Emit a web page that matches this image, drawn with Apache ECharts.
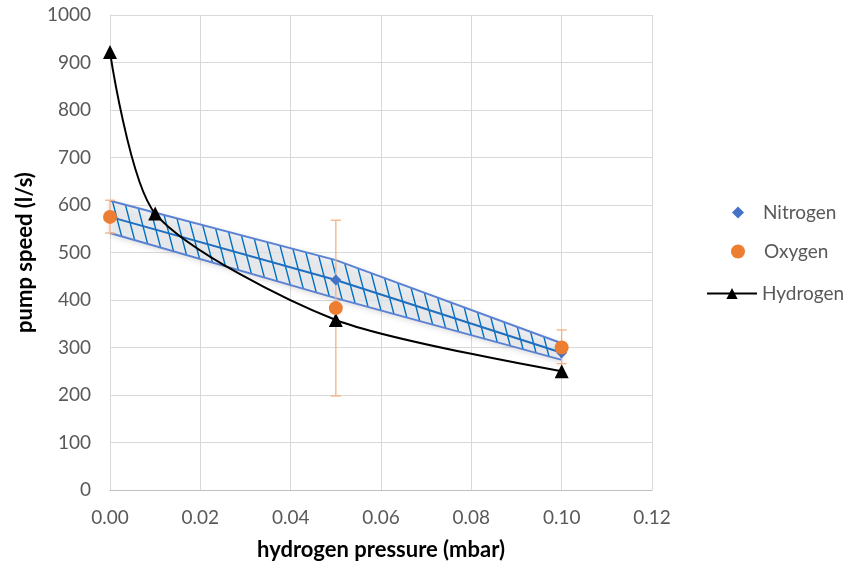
<!DOCTYPE html>
<html><head><meta charset="utf-8">
<script src="https://cdn.jsdelivr.net/npm/echarts@6/dist/echarts.min.js"></script>
<style>html,body{margin:0;padding:0;background:#fff}#c{width:853px;height:568px}</style>
</head><body><div id="c"></div>
<script>
// ---- data ----
const nitrogenX = [0, 0.05, 0.1];
const nitrogenY = [575, 442, 289];
const bandUpper = [609, 484, 309];
const bandLower = [541, 404, 274];
const oxygenX = [0, 0.05, 0.1];
const oxygenY = [575, 383, 300];
const oxygenErrLow = [541, 198, 266];
const oxygenErrHigh = [610, 568, 337];
const hydrogenX = [0, 0.01, 0.05, 0.1];
const hydrogenY = [922, 582, 358, 250];
const xTicks = [0, 0.02, 0.04, 0.06, 0.08, 0.1, 0.12];
const yTicks = [0, 100, 200, 300, 400, 500, 600, 700, 800, 900, 1000];

const FONT = 'Lato';
// hatch pattern
const pc = document.createElement('canvas');
pc.width = 12; pc.height = 46;
const g = pc.getContext('2d');
g.fillStyle = 'rgba(236,238,242,0.7)';
g.fillRect(0, 0, 12, 46);
g.strokeStyle = '#0070c0';
g.lineWidth = 1.4;
g.beginPath();
g.moveTo(-12, -46); g.lineTo(24, 92);
g.moveTo(-24, -46); g.lineTo(12, 92);
g.moveTo(0, -46); g.lineTo(36, 92);
g.stroke();

const zip = (a, b) => a.map((v, i) => [v, b[i]]);

const legendText = pad => ({fontFamily: FONT, fontSize: 19, color: '#595959', padding: [0, 0, 0, pad]});

const chart = echarts.init(document.getElementById('c'), null, {renderer: 'canvas'});
chart.setOption({
  animation: false,
  grid: {left: 110, right: 201, top: 15, bottom: 78},
  legend: [
    {left: 727, top: 198, itemWidth: 12, itemHeight: 12, data: ['Nitrogen'], textStyle: legendText(14)},
    {left: 726, top: 237, itemWidth: 14, itemHeight: 14, data: ['Oxygen'], textStyle: legendText(14)},
    {left: 701, top: 279, itemWidth: 50, itemHeight: 14, data: ['Hydrogen'], textStyle: legendText(0)}
  ],
  xAxis: {
    type: 'value', min: 0, max: 0.12, interval: 0.02,
    name: 'hydrogen pressure (mbar)', nameLocation: 'middle', nameGap: 49,
    nameTextStyle: {fontFamily: FONT, fontSize: 22, fontWeight: 'bold', color: '#000'},
    axisLine: {lineStyle: {color: '#bfbfbf'}}, axisTick: {show: false},
    axisLabel: {fontFamily: FONT, fontSize: 19, color: '#595959', margin: 18,
      formatter: v => { const t = xTicks.find(x => Math.abs(x - v) < 1e-9); return (t !== undefined ? t : v).toFixed(2); }},
    splitLine: {show: true, lineStyle: {color: '#d9d9d9'}}
  },
  yAxis: {
    type: 'value', min: 0, max: 1000, interval: 100,
    name: 'pump speed (l/s)', nameLocation: 'middle', nameGap: 72,
    nameTextStyle: {fontFamily: FONT, fontSize: 22, fontWeight: 'bold', color: '#000'},
    axisLine: {show: true, lineStyle: {color: '#d9d9d9'}}, axisTick: {show: false},
    axisLabel: {fontFamily: FONT, fontSize: 19, color: '#595959', margin: 19,
      formatter: v => { const t = yTicks.find(y => y === v); return String(t !== undefined ? t : v); }},
    splitLine: {show: true, lineStyle: {color: '#d9d9d9'}}
  },
  series: [
    {name: 'band', type: 'custom', z: 2, data: [0],
     renderItem: (params, api) => {
       const up = nitrogenX.map((x, i) => api.coord([x, bandUpper[i]]));
       const lo = nitrogenX.map((x, i) => api.coord([x, bandLower[i]]));
       const poly = up.concat(lo.slice().reverse());
       const edge = {stroke: '#5b82d2', lineWidth: 2, fill: null};
       return {type: 'group', children: [
         {type: 'polygon', shape: {points: poly},
          style: {fill: {image: pc, repeat: 'repeat'}, shadowBlur: 6, shadowColor: 'rgba(0,0,0,0.22)', shadowOffsetY: 2}},
         {type: 'polyline', shape: {points: up}, style: edge},
         {type: 'polyline', shape: {points: lo}, style: edge}
       ]};
     }},
    {name: 'errbars', type: 'custom', z: 3,
     data: oxygenX.map((x, i) => [x, oxygenErrLow[i], oxygenErrHigh[i]]),
     renderItem: (params, api) => {
       const lo = api.coord([api.value(0), api.value(1)]);
       const hi = api.coord([api.value(0), api.value(2)]);
       const w = 5;
       const st = {stroke: '#f4b183', lineWidth: 1.3};
       return {type: 'group', children: [
         {type: 'line', shape: {x1: lo[0], y1: lo[1], x2: hi[0], y2: hi[1]}, style: st},
         {type: 'line', shape: {x1: lo[0] - w, y1: lo[1], x2: lo[0] + w, y2: lo[1]}, style: st},
         {type: 'line', shape: {x1: hi[0] - w, y1: hi[1], x2: hi[0] + w, y2: hi[1]}, style: st}
       ]};
     }},
    {name: 'NitrogenLine', type: 'line', data: zip(nitrogenX, nitrogenY), symbol: 'none',
     lineStyle: {color: '#1f6fc0', width: 2}, z: 4},
    {name: 'Hydrogen', type: 'line', data: zip(hydrogenX, hydrogenY), smooth: 0.25,
     symbol: 'triangle', symbolSize: 14, itemStyle: {color: '#000'}, lineStyle: {color: '#000', width: 2}, z: 5},
    {name: 'Nitrogen', type: 'scatter', data: zip(nitrogenX, nitrogenY), symbol: 'diamond', symbolSize: 11,
     itemStyle: {color: '#4472c4', opacity: 1}, z: 6},
    {name: 'Oxygen', type: 'scatter', data: zip(oxygenX, oxygenY), symbol: 'circle', symbolSize: 14,
     itemStyle: {color: '#ed7d31', opacity: 1}, z: 7}
  ]
});
</script></body></html>
